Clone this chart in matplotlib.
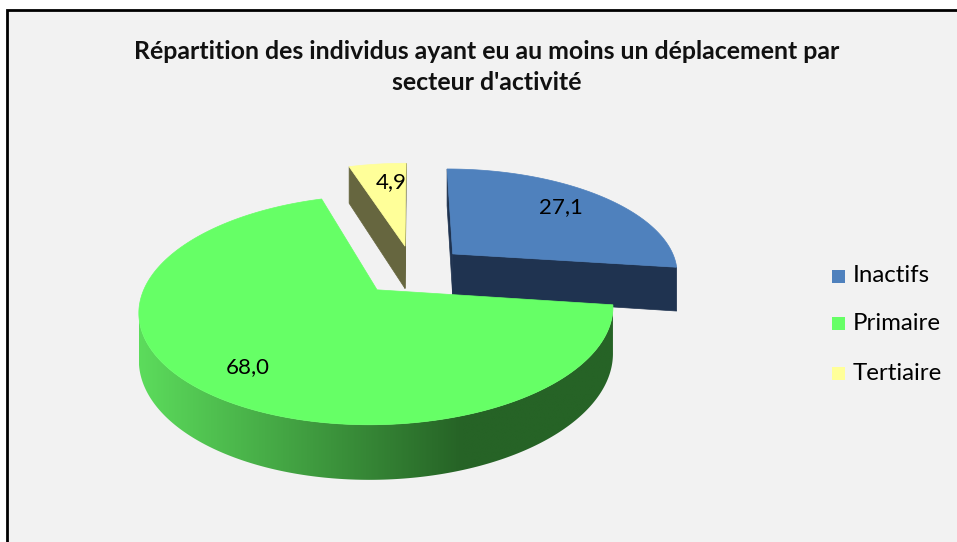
import numpy as np
import matplotlib
matplotlib.use('Agg')
import matplotlib.pyplot as plt
from matplotlib.patches import Polygon, Rectangle

plt.rcParams['font.family'] = ['Lato', 'DejaVu Sans']

# chart data
categories = ['Inactifs', 'Primaire', 'Tertiaire']
values = [27.1, 68.0, 4.9]
value_labels = ['27,1', '68,0', '4,9']
title = "Répartition des individus ayant eu au moins un déplacement par\nsecteur d'activité"

# styles
top_colors = ['#4F81BD', '#66FF66', '#FFFF99']
cut_colors = ['#1F3350', '#276427', '#66663F']
side_light = ['#2A4670', '#5CDC5C', '#8A8A50']
side_dark = ['#1F3350', '#266326', '#66663F']
label_xy = [(561, 207), (248, 367), (391, 182)]   # pixel positions of value labels

# projection of the tilted, exploded disk into pixel space
CX, CY = 413, 270
A, B, D, K = 226, 104.4, 44, 0.17
EXPLODE = 0.24
CAM = np.array([0.0, -1.0 / K])


def proj(u, v, z=0.0):
    u = np.asarray(u, dtype=float)
    v = np.asarray(v, dtype=float)
    w = 1 + K * v
    return CX + A * u / w, CY - B * v / w + D * z / w


def hex_rgb(c):
    c = c.lstrip('#')
    return np.array([int(c[i:i + 2], 16) for i in (0, 2, 4)]) / 255.0


fig = plt.figure(figsize=(9.57, 5.42), dpi=100)
fig.patch.set_facecolor('white')
ax = fig.add_axes([0, 0, 1, 1])
ax.set_xlim(0, 957)
ax.set_ylim(542, 0)
ax.axis('off')

# chart frame (only top and left borders fall inside the picture)
ax.add_patch(Rectangle((7, 10), 980, 560, facecolor='#F2F2F2',
                       edgecolor='black', linewidth=2, zorder=0))

ax.text(487, 67, title, ha='center', va='center', fontsize=17.9,
        fontweight='bold', linespacing=1.45, color='#111111')

total = sum(values)
bounds = np.concatenate([[0], np.cumsum(values)]) / total * 360
slices = []
for i in range(len(values)):
    t0, t1 = np.radians(bounds[i]), np.radians(bounds[i + 1])
    mid = (t0 + t1) / 2
    off = EXPLODE * np.array([np.sin(mid), np.cos(mid)])
    slices.append((i, t0, t1, off))

# paint back slices first
slices.sort(key=lambda s: -s[3][1])

for order, (i, t0, t1, off) in enumerate(slices):
    z = 2 + order * 3
    th = np.linspace(t0, t1, 300)
    u = off[0] + np.sin(th)
    v = off[1] + np.cos(th)

    # outer curved side, visible part only
    vis = np.sin(th) * (CAM[0] - u) + np.cos(th) * (CAM[1] - v) > 0
    idx = np.where(vis)[0]
    if len(idx) > 1:
        runs = np.split(idx, np.where(np.diff(idx) > 1)[0] + 1)
        for run in runs:
            if len(run) < 2:
                continue
            xt, yt = proj(u[run], v[run], 0)
            xb, yb = proj(u[run], v[run], 1)
            pts = np.column_stack([np.concatenate([xt, xb[::-1]]),
                                   np.concatenate([yt, yb[::-1]])])
            poly = Polygon(pts, closed=True, facecolor='none',
                           edgecolor='none', zorder=z)
            ax.add_patch(poly)
            # horizontal shading: light on the left, dark on the right
            x0, x1 = pts[:, 0].min(), pts[:, 0].max()
            y0, y1 = pts[:, 1].min(), pts[:, 1].max()
            xs = np.linspace(x0, x1, 400)
            f = np.clip((xs - x0) / max(0.68 * (x1 - x0), 1), 0, 1)
            c0, c1 = hex_rgb(side_light[i]), hex_rgb(side_dark[i])
            grad = (c0[None, :] * (1 - f[:, None]) + c1[None, :] * f[:, None])[None, :, :]
            im = ax.imshow(grad, extent=[x0, x1, y1, y0], aspect='auto',
                           interpolation='bilinear', zorder=z)
            im.set_clip_path(poly)

    # radial cut faces
    for t, sign in ((t0, -1), (t1, 1)):
        n = sign * np.array([np.cos(t), -np.sin(t)])
        m = off + 0.5 * np.array([np.sin(t), np.cos(t)])
        if np.dot(n, CAM - m) <= 0:
            continue
        eu, ev = off[0] + np.sin(t), off[1] + np.cos(t)
        pu = [off[0], eu, eu, off[0]]
        pv = [off[1], ev, ev, off[1]]
        pz = [0, 0, 1, 1]
        xs, ys = zip(*[proj(a, b, c) for a, b, c in zip(pu, pv, pz)])
        ax.add_patch(Polygon(np.column_stack([xs, ys]), closed=True,
                             facecolor=cut_colors[i], edgecolor=cut_colors[i],
                             linewidth=0.5, zorder=z + 0.5))

    # top face
    xt, yt = proj(np.concatenate([[off[0]], u]), np.concatenate([[off[1]], v]), 0)
    ax.add_patch(Polygon(np.column_stack([xt, yt]), closed=True,
                         facecolor=top_colors[i], edgecolor=top_colors[i],
                         linewidth=0.5, zorder=z + 1))

    ax.text(label_xy[i][0], label_xy[i][1], value_labels[i], ha='center',
            va='center', fontsize=16, color='black', zorder=20)

# legend
leg_y = [276, 323, 373]
for i, name in enumerate(categories):
    ax.add_patch(Rectangle((832, leg_y[i] - 6.5), 13, 13,
                           facecolor=top_colors[i], edgecolor='none', zorder=20))
    ax.text(853, leg_y[i], name, ha='left', va='center', fontsize=17.3,
            color='black', zorder=20)

fig.savefig('out.png', dpi=100, facecolor=fig.get_facecolor())
